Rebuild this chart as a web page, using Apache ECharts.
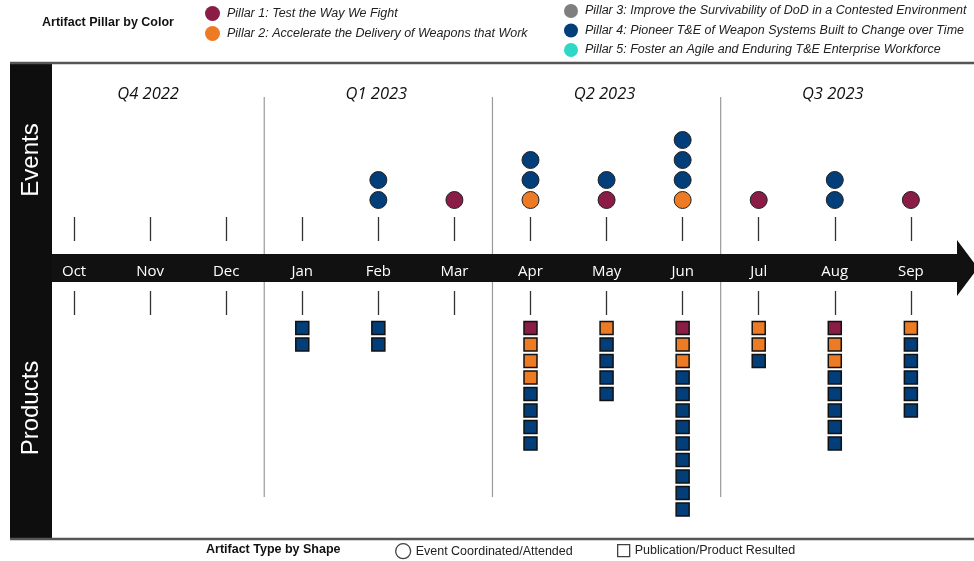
<!DOCTYPE html>
<html>
<head>
<meta charset="utf-8">
<script src="https://cdn.jsdelivr.net/npm/echarts@6/dist/echarts.min.js"></script>
<style>
  html, body { margin: 0; padding: 0; background: #fff; }
  #main { width: 974px; height: 561px; }
</style>
</head>
<body>
<div id="main"></div>
<script>
// months on the timeline (index = x value)
const months = ['Oct', 'Nov', 'Dec', 'Jan', 'Feb', 'Mar', 'Apr', 'May', 'Jun', 'Jul', 'Aug', 'Sep'];
const quarters = ['Q4 2022', 'Q1 2023', 'Q2 2023', 'Q3 2023'];
const pillarNames = [
  'Pillar 1: Test the Way We Fight',
  'Pillar 2: Accelerate the Delivery of Weapons that Work',
  'Pillar 3: Improve the Survivability of DoD in a Contested Environment',
  'Pillar 4: Pioneer T&E of Weapon Systems Built to Change over Time',
  'Pillar 5: Foster an Agile and Enduring T&E Enterprise Workforce'
];
const pillarColors = ['#8a1c45', '#ec7b23', '#7f7f7f', '#023e7a', '#2fd8c4'];
// events per month, pillar number, stacked from the arrow upward
const eventPillars = [[], [], [], [], [4, 4], [1], [2, 4, 4], [1, 4], [2, 4, 4, 4], [1], [4, 4], [1]];
// products per month, pillar number, stacked from the arrow downward
const productPillars = [
  [], [], [], [4, 4], [4, 4], [],
  [1, 2, 2, 2, 4, 4, 4, 4],
  [2, 4, 4, 4, 4],
  [1, 2, 2, 4, 4, 4, 4, 4, 4, 4, 4, 4],
  [2, 2, 4],
  [1, 2, 2, 4, 4, 4, 4, 4],
  [2, 4, 4, 4, 4, 4]
];
const shapeNames = ['Event Coordinated/Attended', 'Publication/Product Resulted'];

const myChart = echarts.init(document.getElementById('main'));

// turn the month lists into [month, level] points for one pillar
function stackPoints(list, pillar) {
  const pts = [];
  list.forEach((col, m) => {
    col.forEach((p, k) => { if (p === pillar) pts.push([m, k + 1]); });
  });
  return pts;
}

const xMin = -0.29, xMax = 11.83;
const monthIdx = months.map((m, i) => i);
const font = 'Liberation Sans';

const series = [];
pillarNames.forEach((name, i) => {
  series.push({
    name: name, type: 'scatter', xAxisIndex: 0, yAxisIndex: 0,
    symbol: 'circle', symbolSize: 17,
    itemStyle: { color: pillarColors[i], borderColor: '#222', borderWidth: 1, opacity: 1 },
    data: stackPoints(eventPillars, i + 1)
  });
  series.push({
    name: name, type: 'scatter', xAxisIndex: 1, yAxisIndex: 1,
    symbol: 'rect', symbolSize: 13,
    itemStyle: { color: pillarColors[i], borderColor: '#111', borderWidth: 1.5, opacity: 1 },
    data: stackPoints(productPillars, i + 1)
  });
});
// shape legend only
series.push({ name: shapeNames[0], type: 'scatter', xAxisIndex: 2, yAxisIndex: 2, symbol: 'circle', data: [] });
series.push({ name: shapeNames[1], type: 'scatter', xAxisIndex: 2, yAxisIndex: 2, symbol: 'rect', data: [] });
// quarter labels and dividers
series.push({
  type: 'custom', xAxisIndex: 2, yAxisIndex: 2, z: 1, silent: true,
  data: quarters.map((q, i) => [i * 3 + 1, i]),
  renderItem: function (params, api) {
    const cs = params.coordSys;
    const x = api.coord([api.value(0), 0])[0];
    const children = [{
      type: 'text',
      style: {
        text: quarters[api.value(1)], x: x - 2, y: cs.y + 32,
        align: 'center', verticalAlign: 'middle',
        font: 'italic 16.5px "Open Sans"', fill: '#111'
      }
    }];
    if (api.value(1) < quarters.length - 1) {
      const xd = api.coord([api.value(0) + 1.5, 0])[0];
      children.push({
        type: 'line',
        shape: { x1: xd, y1: cs.y + 35, x2: xd, y2: cs.y + 435 },
        style: { stroke: '#9a9a9a', lineWidth: 1.2 }
      });
    }
    return { type: 'group', children: children };
  }
});

const tickStyle = { color: '#333', width: 1.3 };
const legendText = { fontStyle: 'italic', fontSize: 12.5, color: '#222', fontFamily: font, padding: [0, 0, 0, 2] };
const shapeStyle = { color: '#fff', borderColor: '#111', borderWidth: 1.3 };
const shapeText = { fontSize: 12.5, color: '#222', fontFamily: font };

const options = {
  animation: false,
  grid: [
    { left: 52, right: 0, top: 62, height: 179 },
    { left: 52, right: 0, top: 291, height: 249 },
    { left: 52, right: 0, top: 62, height: 478 }
  ],
  xAxis: [
    {
      gridIndex: 0, type: 'value', min: xMin, max: xMax, position: 'bottom', z: 10,
      axisLine: { show: false, onZero: false }, splitLine: { show: false },
      axisTick: { show: true, inside: true, length: 24, customValues: monthIdx, lineStyle: tickStyle },
      axisLabel: {
        customValues: monthIdx, formatter: v => months[v], margin: 23,
        color: '#fff', fontSize: 15, fontFamily: 'Open Sans'
      }
    },
    {
      gridIndex: 1, type: 'value', min: xMin, max: xMax, position: 'top', z: 10,
      axisLine: { show: false, onZero: false }, splitLine: { show: false },
      axisTick: { show: true, inside: true, length: 24, customValues: monthIdx, lineStyle: tickStyle },
      axisLabel: { show: false }
    },
    { gridIndex: 2, type: 'value', min: xMin, max: xMax, show: false }
  ],
  yAxis: [
    { gridIndex: 0, type: 'value', min: -1.05, max: 7.9, show: false },
    { gridIndex: 1, type: 'value', min: -1.24, max: 13.85, inverse: true, show: false },
    { gridIndex: 2, type: 'value', min: 0, max: 1, show: false }
  ],
  legend: [
    {
      data: pillarNames.slice(0, 2), orient: 'vertical', left: 205, top: 6, padding: 0,
      icon: 'circle', itemWidth: 15, itemHeight: 15, itemGap: 5,
      itemStyle: { borderWidth: 0 }, textStyle: legendText
    },
    {
      data: pillarNames.slice(2), orient: 'vertical', left: 564, top: 4, padding: 0,
      icon: 'circle', itemWidth: 14, itemHeight: 15, itemGap: 5.5,
      itemStyle: { borderWidth: 0 }, textStyle: legendText
    },
    {
      data: [{ name: shapeNames[0], icon: 'circle', itemStyle: shapeStyle }],
      left: 395, top: 543, padding: 0, itemWidth: 15, itemHeight: 15,
      textStyle: shapeText
    },
    {
      data: [{ name: shapeNames[1], icon: 'rect', itemStyle: shapeStyle }],
      left: 617, top: 544, padding: 0, itemWidth: 12, itemHeight: 12,
      textStyle: shapeText
    }
  ],
  graphic: [
    { type: 'rect', z: 3, shape: { x: 10, y: 62, width: 42, height: 478 }, style: { fill: '#0e0e0e' } },
    { type: 'line', z: 3, shape: { x1: 10, y1: 63, x2: 974, y2: 63 }, style: { stroke: '#555', lineWidth: 2.5 } },
    { type: 'line', z: 3, shape: { x1: 10, y1: 539, x2: 974, y2: 539 }, style: { stroke: '#555', lineWidth: 2.5 } },
    {
      type: 'polygon', z: 3,
      shape: { points: [[52, 254], [957, 254], [957, 240], [978, 268], [957, 296], [957, 282], [52, 282]] },
      style: { fill: '#111' }
    },
    {
      type: 'text', z: 4, x: 31, y: 160, rotation: Math.PI / 2,
      style: { text: 'Events', fill: '#fff', font: '24px "Liberation Sans"', align: 'center', verticalAlign: 'middle' }
    },
    {
      type: 'text', z: 4, x: 31, y: 408, rotation: Math.PI / 2,
      style: { text: 'Products', fill: '#fff', font: '24px "Liberation Sans"', align: 'center', verticalAlign: 'middle' }
    },
    {
      type: 'text', z: 4, x: 42, y: 23,
      style: { text: 'Artifact Pillar by Color', fill: '#111', font: 'bold 12.5px "Liberation Sans"', verticalAlign: 'middle' }
    },
    {
      type: 'text', z: 4, x: 206, y: 550,
      style: { text: 'Artifact Type by Shape', fill: '#111', font: 'bold 12.5px "Liberation Sans"', verticalAlign: 'middle' }
    }
  ],
  series: series
};

myChart.setOption(options);
</script>
</body>
</html>
